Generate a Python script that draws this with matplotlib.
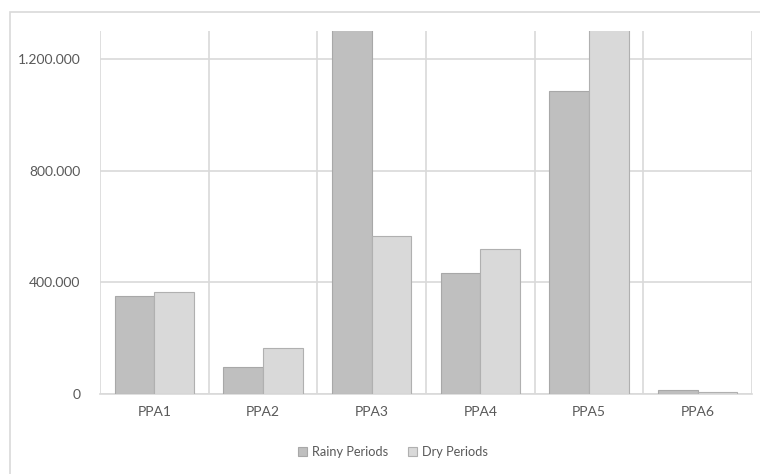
import matplotlib.pyplot as plt
import numpy as np
from matplotlib.patches import Rectangle
from matplotlib.ticker import FuncFormatter, FixedLocator

# values (PPA3 rainy and PPA5 dry run past the axis top)
categories = ['PPA1', 'PPA2', 'PPA3', 'PPA4', 'PPA5', 'PPA6']
rainy = [351000, 97000, 1450000, 432000, 1086000, 15000]
dry = [365000, 166000, 566000, 519000, 1400000, 6000]
yticks = [0, 400000, 800000, 1200000]

plt.rcParams['font.family'] = ['Lato', 'DejaVu Sans']

fig = plt.figure(figsize=(7.6, 4.74), dpi=100)
# outer chart frame (only top and left edges visible in the crop)
fig.patches.append(Rectangle((10 / 760, -0.1), 1.0, (474 - 12) / 474 + 0.1,
                             transform=fig.transFigure, fill=False,
                             edgecolor='#d9d9d9', linewidth=1.2))

ax = fig.add_axes([100 / 760, 80 / 474, 652 / 760, 363 / 474])
x = np.arange(len(categories))
w = 0.364
ax.bar(x - w / 2, rainy, w, color='#bfbfbf', edgecolor='#a8a8a8', linewidth=0.8,
       label='Rainy Periods', zorder=3)
ax.bar(x + w / 2, dry, w, color='#d9d9d9', edgecolor='#b0b0b0', linewidth=0.8,
       label='Dry Periods', zorder=3)

ax.set_xlim(-0.5, len(categories) - 0.5)
ax.set_ylim(0, 1300000)
ax.set_xticks(x)
ax.set_xticklabels(categories)
ax.xaxis.set_minor_locator(FixedLocator(np.arange(-0.5, len(categories), 1.0)))
ax.set_yticks(yticks)
ax.yaxis.set_major_formatter(FuncFormatter(lambda v, p: f'{int(v):,}'.replace(',', '.')))

ax.grid(axis='y', which='major', color='#d9d9d9', linewidth=1.2, zorder=0)
ax.grid(axis='x', which='minor', color='#d9d9d9', linewidth=1.2, zorder=0)
ax.grid(axis='x', which='major', visible=False)
for s in ['top', 'left', 'right']:
    ax.spines[s].set_visible(False)
ax.spines['bottom'].set_color('#d9d9d9')
ax.spines['bottom'].set_linewidth(1.2)
ax.tick_params(axis='both', which='both', length=0, colors='#595959', labelsize=10)
ax.tick_params(axis='x', pad=9)
ax.tick_params(axis='y', pad=14)

fig.legend(loc='center', bbox_to_anchor=(393 / 760, 1 - 452 / 474), ncol=2, frameon=False,
           fontsize=9.2, labelcolor='#595959', handlelength=0.7, handleheight=0.7,
           handletextpad=0.4, columnspacing=1.6)

plt.savefig('out.png', dpi=100)
